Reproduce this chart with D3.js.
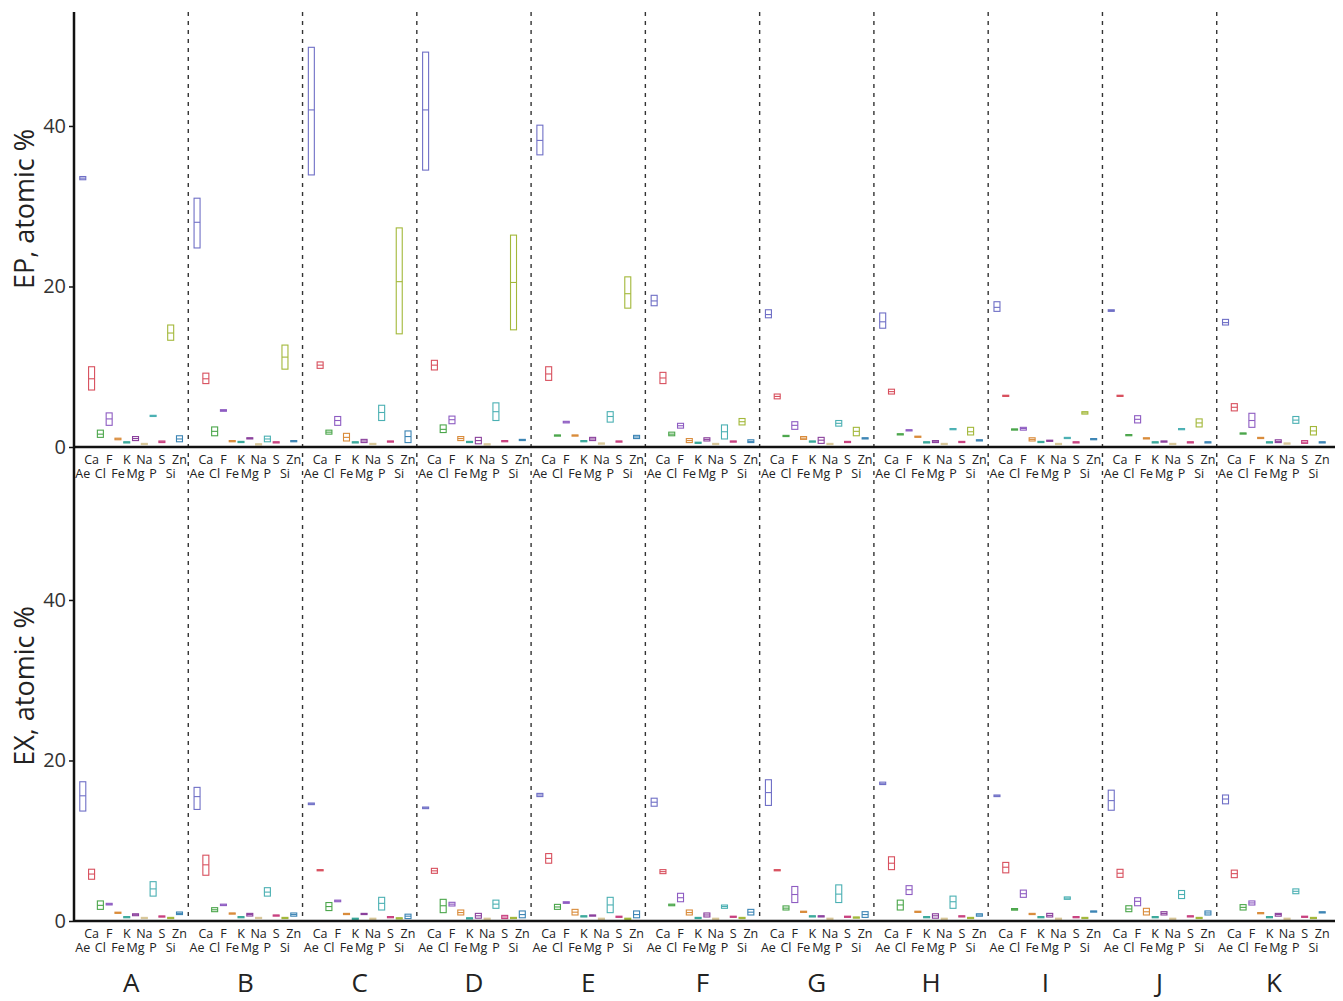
<!DOCTYPE html>
<html>
<head>
    <meta charset="UTF-8">
    <title>EP / EX atomic %</title>
    <script src="https://cdn.jsdelivr.net/npm/d3@7/dist/d3.min.js"></script>
    <style>
        body { margin: 0; background: #fff; }
        svg text { font-family: "Open Sans", "Noto Sans", sans-serif; fill: #222; }
    </style>
</head>
<body>
<svg id="chart" width="1343" height="1001"></svg>
<script>

// categories
const elements = ["Ae", "Ca", "Cl", "F", "Fe", "K", "Mg", "Na", "P", "S", "Si", "Zn"];
const panels = ["A", "B", "C", "D", "E", "F", "G", "H", "I", "J", "K"];
const yTicks = [0, 20, 40];
const elemColors = ["#6f6fc6", "#d8505e", "#4ba64b", "#8e5cc2", "#d98b3a", "#39a89a",
                    "#8a3f9c", "#d9c89a", "#4bb0b3", "#c8407f", "#a3b83a", "#3b84b4"];

// EP row, one line per panel, values in element order
const epLo = [
  [33.3, 7.1, 1.2, 2.7, 0.9, 0.5, 0.8, 0.3, 3.85, 0.55, 13.3, 0.65],
  [24.8, 7.9, 1.4, 4.45, 0.7, 0.6, 1.05, 0.3, 0.65, 0.55, 9.7, 0.7],
  [33.9, 9.8, 1.6, 2.7, 0.75, 0.55, 0.55, 0.35, 3.3, 0.6, 14.1, 0.55],
  [34.5, 9.6, 1.8, 2.9, 0.8, 0.6, 0.4, 0.3, 3.3, 0.7, 14.6, 0.85],
  [36.4, 8.3, 1.4, 3.0, 1.4, 0.7, 0.8, 0.4, 3.1, 0.65, 17.3, 1.05],
  [17.6, 7.9, 1.4, 2.35, 0.55, 0.5, 0.75, 0.35, 1.0, 0.65, 2.75, 0.55],
  [16.1, 6.0, 1.3, 2.2, 0.95, 0.65, 0.45, 0.35, 2.6, 0.6, 1.4, 1.05],
  [14.8, 6.6, 1.55, 2.05, 1.25, 0.55, 0.55, 0.35, 2.2, 0.6, 1.5, 0.8],
  [16.9, 6.35, 2.15, 2.1, 0.75, 0.6, 0.75, 0.35, 1.1, 0.55, 4.1, 0.95],
  [16.9, 6.35, 1.45, 3.0, 1.0, 0.55, 0.65, 0.35, 2.2, 0.55, 2.5, 0.55],
  [15.2, 4.5, 1.65, 2.45, 1.1, 0.55, 0.55, 0.4, 2.95, 0.45, 1.5, 0.55]
];
const epMed = [
  [33.5, 8.5, 1.6, 3.5, 1.0, 0.6, 1.05, 0.4, 3.9, 0.65, 14.2, 1.0],
  [28.0, 8.5, 1.95, 4.55, 0.75, 0.65, 1.1, 0.35, 1.0, 0.6, 11.2, 0.75],
  [42.0, 10.2, 1.85, 3.3, 1.2, 0.6, 0.75, 0.4, 4.3, 0.7, 20.6, 1.3],
  [42.0, 10.2, 2.2, 3.4, 1.05, 0.65, 0.8, 0.35, 4.4, 0.75, 20.5, 0.9],
  [38.2, 9.1, 1.45, 3.1, 1.45, 0.75, 1.0, 0.45, 3.8, 0.7, 19.1, 1.25],
  [18.2, 8.6, 1.6, 2.65, 0.8, 0.55, 0.95, 0.4, 1.9, 0.7, 3.15, 0.7],
  [16.5, 6.3, 1.38, 2.7, 1.1, 0.7, 0.85, 0.4, 2.95, 0.65, 1.95, 1.1],
  [15.6, 6.9, 1.6, 2.1, 1.3, 0.6, 0.65, 0.4, 2.25, 0.65, 1.9, 0.85],
  [17.4, 6.4, 2.2, 2.3, 0.95, 0.65, 0.8, 0.4, 1.15, 0.6, 4.25, 1.0],
  [17.0, 6.4, 1.5, 3.45, 1.08, 0.6, 0.7, 0.4, 2.25, 0.6, 3.0, 0.6],
  [15.5, 4.95, 1.7, 3.3, 1.15, 0.6, 0.7, 0.45, 3.35, 0.6, 2.0, 0.6]
];
const epHi = [
  [33.7, 10.0, 2.1, 4.25, 1.1, 0.65, 1.3, 0.45, 3.95, 0.75, 15.2, 1.4],
  [31.0, 9.2, 2.5, 4.65, 0.8, 0.7, 1.15, 0.4, 1.35, 0.65, 12.7, 0.8],
  [49.8, 10.6, 2.1, 3.8, 1.7, 0.65, 0.95, 0.45, 5.2, 0.75, 27.3, 2.0],
  [49.2, 10.8, 2.75, 3.85, 1.3, 0.7, 1.2, 0.4, 5.5, 0.8, 26.4, 0.95],
  [40.1, 10.0, 1.5, 3.2, 1.5, 0.8, 1.2, 0.5, 4.4, 0.75, 21.2, 1.45],
  [18.9, 9.3, 1.85, 2.95, 1.05, 0.6, 1.15, 0.45, 2.75, 0.75, 3.55, 0.9],
  [17.1, 6.6, 1.45, 3.15, 1.3, 0.75, 1.2, 0.45, 3.3, 0.7, 2.45, 1.15],
  [16.7, 7.2, 1.65, 2.15, 1.35, 0.65, 0.8, 0.45, 2.3, 0.7, 2.45, 0.9],
  [18.1, 6.45, 2.25, 2.45, 1.15, 0.7, 0.85, 0.45, 1.2, 0.65, 4.4, 1.05],
  [17.1, 6.45, 1.55, 3.9, 1.15, 0.65, 0.75, 0.45, 2.3, 0.65, 3.5, 0.65],
  [15.9, 5.4, 1.75, 4.2, 1.2, 0.65, 0.9, 0.5, 3.8, 0.8, 2.55, 0.65]
];

// EX row
const exLo = [
  [13.7, 5.2, 1.45, 2.0, 1.0, 0.45, 0.66, 0.35, 3.1, 0.53, 0.35, 0.8],
  [13.9, 5.7, 1.16, 1.92, 0.9, 0.45, 0.62, 0.35, 3.1, 0.65, 0.35, 0.6],
  [14.5, 6.26, 1.3, 2.4, 0.85, 0.25, 0.85, 0.25, 1.37, 0.45, 0.3, 0.3],
  [14.0, 5.94, 1.04, 1.87, 0.75, 0.3, 0.35, 0.25, 1.58, 0.3, 0.35, 0.4],
  [15.5, 7.2, 1.45, 2.2, 0.75, 0.55, 0.65, 0.25, 1.04, 0.5, 0.25, 0.4],
  [14.3, 5.9, 1.9, 2.4, 0.75, 0.35, 0.5, 0.25, 1.58, 0.5, 0.35, 0.75],
  [14.4, 6.25, 1.37, 2.3, 1.1, 0.55, 0.55, 0.25, 2.3, 0.5, 0.4, 0.45],
  [17.0, 6.4, 1.37, 3.3, 1.1, 0.45, 0.35, 0.25, 1.58, 0.55, 0.35, 0.6],
  [15.5, 6.0, 1.35, 2.95, 0.8, 0.45, 0.5, 0.25, 2.7, 0.45, 0.35, 1.15],
  [13.8, 5.44, 1.16, 1.9, 0.75, 0.45, 0.75, 0.25, 2.8, 0.55, 0.35, 0.75],
  [14.6, 5.4, 1.37, 1.99, 0.95, 0.45, 0.6, 0.25, 3.4, 0.5, 0.35, 1.05]
];
const exMed = [
  [15.6, 5.85, 1.95, 2.08, 1.04, 0.5, 0.78, 0.4, 4.0, 0.58, 0.4, 0.95],
  [15.5, 7.0, 1.4, 2.0, 0.95, 0.5, 0.8, 0.4, 3.6, 0.7, 0.4, 0.8],
  [14.6, 6.33, 1.8, 2.5, 0.9, 0.3, 0.9, 0.3, 2.2, 0.5, 0.35, 0.6],
  [14.1, 6.25, 1.9, 2.1, 1.05, 0.35, 0.65, 0.3, 2.1, 0.5, 0.4, 0.8],
  [15.7, 7.8, 1.75, 2.3, 1.1, 0.6, 0.7, 0.3, 2.0, 0.55, 0.3, 0.8],
  [14.8, 6.15, 2.0, 2.9, 1.05, 0.4, 0.75, 0.3, 1.8, 0.55, 0.4, 1.1],
  [16.0, 6.33, 1.6, 3.3, 1.16, 0.6, 0.6, 0.3, 3.35, 0.55, 0.45, 0.8],
  [17.1, 7.2, 2.0, 3.9, 1.16, 0.5, 0.65, 0.3, 2.4, 0.6, 0.4, 0.75],
  [15.6, 6.7, 1.45, 3.4, 0.87, 0.5, 0.7, 0.3, 2.85, 0.5, 0.4, 1.2],
  [15.0, 5.95, 1.5, 2.45, 1.15, 0.5, 0.95, 0.3, 3.3, 0.6, 0.4, 1.0],
  [15.2, 5.9, 1.7, 2.25, 1.0, 0.5, 0.8, 0.3, 3.7, 0.55, 0.4, 1.1]
];
const exHi = [
  [17.35, 6.45, 2.5, 2.2, 1.1, 0.55, 0.9, 0.45, 4.9, 0.63, 0.45, 1.12],
  [16.65, 8.2, 1.66, 2.1, 1.0, 0.55, 0.95, 0.45, 4.15, 0.75, 0.45, 1.0],
  [14.7, 6.4, 2.3, 2.6, 0.95, 0.35, 0.95, 0.35, 2.95, 0.55, 0.4, 0.85],
  [14.2, 6.56, 2.7, 2.33, 1.37, 0.4, 0.95, 0.35, 2.6, 0.7, 0.45, 1.25],
  [15.9, 8.4, 2.07, 2.4, 1.45, 0.65, 0.75, 0.35, 2.95, 0.6, 0.35, 1.25],
  [15.3, 6.4, 2.1, 3.45, 1.37, 0.45, 1.0, 0.35, 1.99, 0.6, 0.45, 1.45],
  [17.6, 6.4, 1.88, 4.3, 1.22, 0.65, 0.65, 0.35, 4.5, 0.6, 0.5, 1.16],
  [17.3, 8.0, 2.6, 4.4, 1.22, 0.55, 0.9, 0.35, 3.1, 0.65, 0.45, 0.9],
  [15.7, 7.3, 1.55, 3.85, 0.95, 0.55, 0.95, 0.35, 3.0, 0.55, 0.45, 1.25],
  [16.3, 6.44, 1.9, 2.9, 1.58, 0.55, 1.16, 0.35, 3.8, 0.65, 0.45, 1.25],
  [15.7, 6.34, 2.04, 2.5, 1.05, 0.55, 0.95, 0.35, 4.0, 0.6, 0.45, 1.15]
];

const svg = d3.select("#chart");
const plotLeft = 74, plotRight = 1331, plotTop = 12;

const xPanel = d3.scaleBand().domain(panels).range([plotLeft, plotRight]);
const xElem = d3.scalePoint().domain(elements).range([0, xPanel.bandwidth()]).padding(1);
const color = d3.scaleOrdinal().domain(elements).range(elemColors);

const rows = [
  {title: "EP, atomic %", y: d3.scaleLinear().domain([0, 54.2]).range([447, plotTop]), lo: epLo, med: epMed, hi: epHi},
  {title: "EX, atomic %", y: d3.scaleLinear().domain([0, 54.2]).range([921, 486]), lo: exLo, med: exMed, hi: exHi}
];

// panel dividers
svg.append("g")
  .selectAll("line")
  .data(panels.slice(1))
  .join("line")
    .attr("x1", d => xPanel(d)).attr("x2", d => xPanel(d))
    .attr("y1", plotTop).attr("y2", rows[1].y(0))
    .attr("stroke", "#333")
    .attr("stroke-width", 1.4)
    .attr("stroke-dasharray", "4,5");

const bw = 6;

rows.forEach(function(row, ri) {
  const y = row.y;
  const g = svg.append("g");

  // boxes
  panels.forEach(function(p, pi) {
    const pg = g.append("g").attr("transform", `translate(${xPanel(p)},0)`);
    const data = elements.map((e, i) => ({e: e, lo: row.lo[pi][i], med: row.med[pi][i], hi: row.hi[pi][i]}));
    pg.selectAll("rect")
      .data(data)
      .join("rect")
        .attr("x", d => xElem(d.e) - bw / 2)
        .attr("width", bw)
        .attr("y", d => y(d.hi))
        .attr("height", d => Math.max(1.2, y(d.lo) - y(d.hi)))
        .attr("fill", "none")
        .attr("stroke", d => color(d.e))
        .attr("stroke-width", 1.1);
    pg.selectAll("line.med")
      .data(data)
      .join("line")
        .attr("class", "med")
        .attr("x1", d => xElem(d.e) - bw / 2)
        .attr("x2", d => xElem(d.e) + bw / 2)
        .attr("y1", d => y(d.med)).attr("y2", d => y(d.med))
        .attr("stroke", d => color(d.e))
        .attr("stroke-width", 1.1);

    // element labels, staggered in two rows
    pg.selectAll("text")
      .data(elements)
      .join("text")
        .attr("x", d => xElem(d))
        .attr("y", (d, i) => y(0) + (i % 2 === 0 ? 31 : 17))
        .attr("text-anchor", "middle")
        .style("font-size", "12.5px")
        .text(d => d);
  });

  // x axis line
  g.append("line")
    .attr("x1", plotLeft).attr("x2", plotRight + 4)
    .attr("y1", y(0)).attr("y2", y(0))
    .attr("stroke", "#111").attr("stroke-width", 2.5);

  // y axis
  const ax = g.append("g")
    .attr("transform", `translate(${plotLeft},0)`)
    .call(d3.axisLeft(y).tickValues(yTicks).tickSize(5).tickPadding(3));
  ax.select(".domain").remove();
  ax.selectAll(".tick line").attr("stroke", "#111").attr("stroke-width", 1.5);
  ax.selectAll(".tick text").style("font-size", "20px").style("fill", "#333");

  // y title
  g.append("text")
    .attr("transform", `translate(34,${ri === 0 ? 209 : 686}) rotate(-90)`)
    .attr("text-anchor", "middle")
    .style("font-size", "27px")
    .text(row.title);
});

// left axis line, continuous over both rows
svg.append("line")
  .attr("x1", plotLeft).attr("x2", plotLeft)
  .attr("y1", plotTop).attr("y2", rows[1].y(0) + 1)
  .attr("stroke", "#111").attr("stroke-width", 2.5);

// panel letters
svg.append("g")
  .selectAll("text")
  .data(panels)
  .join("text")
    .attr("x", d => xPanel(d) + xPanel.bandwidth() / 2)
    .attr("y", 992)
    .attr("text-anchor", "middle")
    .style("font-size", "26px")
    .text(d => d);

</script>
</body>
</html>
